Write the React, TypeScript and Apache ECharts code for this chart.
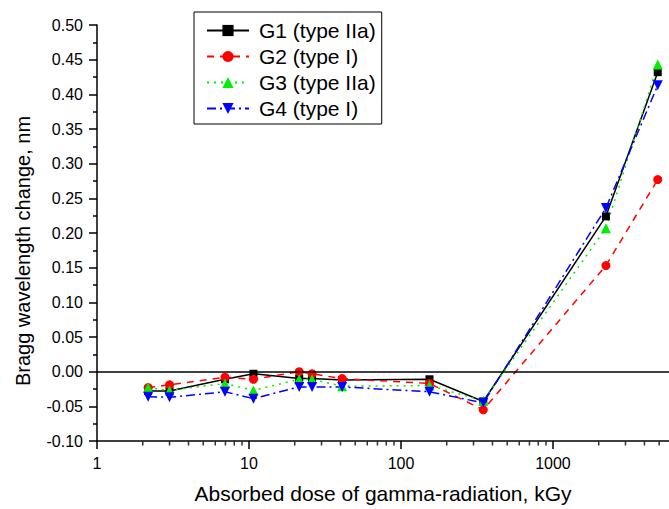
import React, { useEffect, useRef } from "react";
import * as echarts from "echarts";

const doses = [2.17, 3.0, 6.95, 10.7, 21.4, 26, 41, 154, 348, 2230, 4890];
const g1 = [-0.028, -0.028, -0.011, -0.003, -0.010, -0.010, -0.012, -0.011, -0.043, 0.224, 0.432];
const g2 = [-0.023, -0.019, -0.008, -0.011, 0.0, -0.003, -0.010, -0.017, -0.055, 0.153, 0.277];
const g3 = [-0.023, -0.027, -0.017, -0.027, -0.011, -0.011, -0.021, -0.020, -0.042, 0.207, 0.443];
const g4 = [-0.036, -0.037, -0.029, -0.039, -0.022, -0.022, -0.022, -0.029, -0.045, 0.236, 0.413];
const minorTicks = [2, 3, 4, 5, 6, 7, 8, 9, 20, 30, 40, 50, 60, 70, 80, 90, 200, 300, 400, 500, 600, 700, 800, 900, 2000, 3000, 4000, 5000];
const seriesNames = ["G1 (type IIa)", "G2 (type I)", "G3 (type IIa)", "G4 (type I)"];

const FONT = "Liberation Sans, Arial, sans-serif";

export default function App() {
  const ref = useRef<HTMLDivElement>(null);
  useEffect(() => {
    if (!ref.current) return;
    const chart = echarts.init(ref.current, undefined, { renderer: "svg" });
    const pair = (ys: number[]) => doses.map((d, i) => [d, ys[i]]);
    const common = (name: string, ys: number[], color: string, symbol: string, size: number, lt: any, rot = 0) => ({
      name,
      type: "line",
      data: pair(ys),
      symbol,
      symbolSize: size,
      symbolRotate: rot,
      showAllSymbol: true,
      lineStyle: { color, width: 1.5, type: lt },
      itemStyle: { color },
      z: 3,
    });
    chart.setOption({
      animation: false,
      textStyle: { fontFamily: FONT },
      grid: { left: 97, right: 0, top: 25, bottom: 65, containLabel: false },
      legend: {
        data: seriesNames,
        left: 194,
        top: 12,
        orient: "vertical",
        borderColor: "#000",
        borderWidth: 1,
        padding: [8, 6, 5, 12],
        itemWidth: 42,
        itemHeight: 14,
        itemGap: 5,
        textStyle: { fontFamily: FONT, fontSize: 21, color: "#000", padding: [0, 0, 0, 5] },
        backgroundColor: "#fff",
      },
      xAxis: {
        type: "log",
        logBase: 10,
        min: 1,
        max: 5800,
        name: "Absorbed dose of gamma-radiation, kGy",
        nameLocation: "middle",
        nameGap: 42,
        nameTextStyle: { fontFamily: FONT, fontSize: 21, color: "#000" },
        axisLine: { onZero: false, lineStyle: { color: "#000", width: 1.5 } },
        axisTick: { length: 8, lineStyle: { color: "#000", width: 1.5 } },
        axisLabel: {
          fontFamily: FONT,
          fontSize: 16,
          color: "#000",
          margin: 14,
          showMaxLabel: false,
          formatter: (v: number) => {
            const l = Math.log10(v);
            return Math.abs(l - Math.round(l)) < 1e-6 ? String(Math.round(v)) : "";
          },
        },
        splitLine: { show: false },
      },
      yAxis: {
        type: "value",
        min: -0.1,
        max: 0.5,
        interval: 0.05,
        name: "Bragg wavelength change, nm",
        nameLocation: "middle",
        nameGap: 64,
        nameTextStyle: { fontFamily: FONT, fontSize: 20, color: "#000", padding: [0, 36, 0, 0] },
        axisLine: { show: true, lineStyle: { color: "#000", width: 1.5 } },
        axisTick: { show: true, length: 8, lineStyle: { color: "#000", width: 1.5 } },
        minorTick: { show: true, splitNumber: 2, length: 4, lineStyle: { color: "#000", width: 1.5 } },
        axisLabel: {
          fontFamily: FONT,
          fontSize: 16,
          color: "#000",
          margin: 14,
          formatter: (v: number) => v.toFixed(2),
        },
        splitLine: { show: false },
      },
      series: [
        {
          name: "minorTicksX",
          type: "scatter",
          data: minorTicks.map((t) => [t, -0.1]),
          symbol: "rect",
          symbolSize: [1.5, 4],
          symbolOffset: [0, 2.5],
          itemStyle: { color: "#000" },
          clip: false,
          silent: true,
          z: 1,
        },
        {
          ...common(seriesNames[0], g1, "#000000", "rect", 8, "solid"),
          markLine: {
            silent: true,
            symbol: "none",
            label: { show: false },
            lineStyle: { color: "#000", width: 1.5, type: "solid" },
            data: [{ yAxis: 0 }],
          },
        },
        common(seriesNames[1], g2, "#ff0000", "circle", 9, [7, 6]),
        common(seriesNames[2], g3, "#00ee00", "triangle", 10, [2, 5]),
        common(seriesNames[3], g4, "#0000ff", "triangle", 10, [9, 4, 2, 4], 180),
      ],
    });
    return () => chart.dispose();
  }, []);
  return <div ref={ref} style={{ width: 669, height: 509, position: "absolute", left: 0, top: 0 }} />;
}
